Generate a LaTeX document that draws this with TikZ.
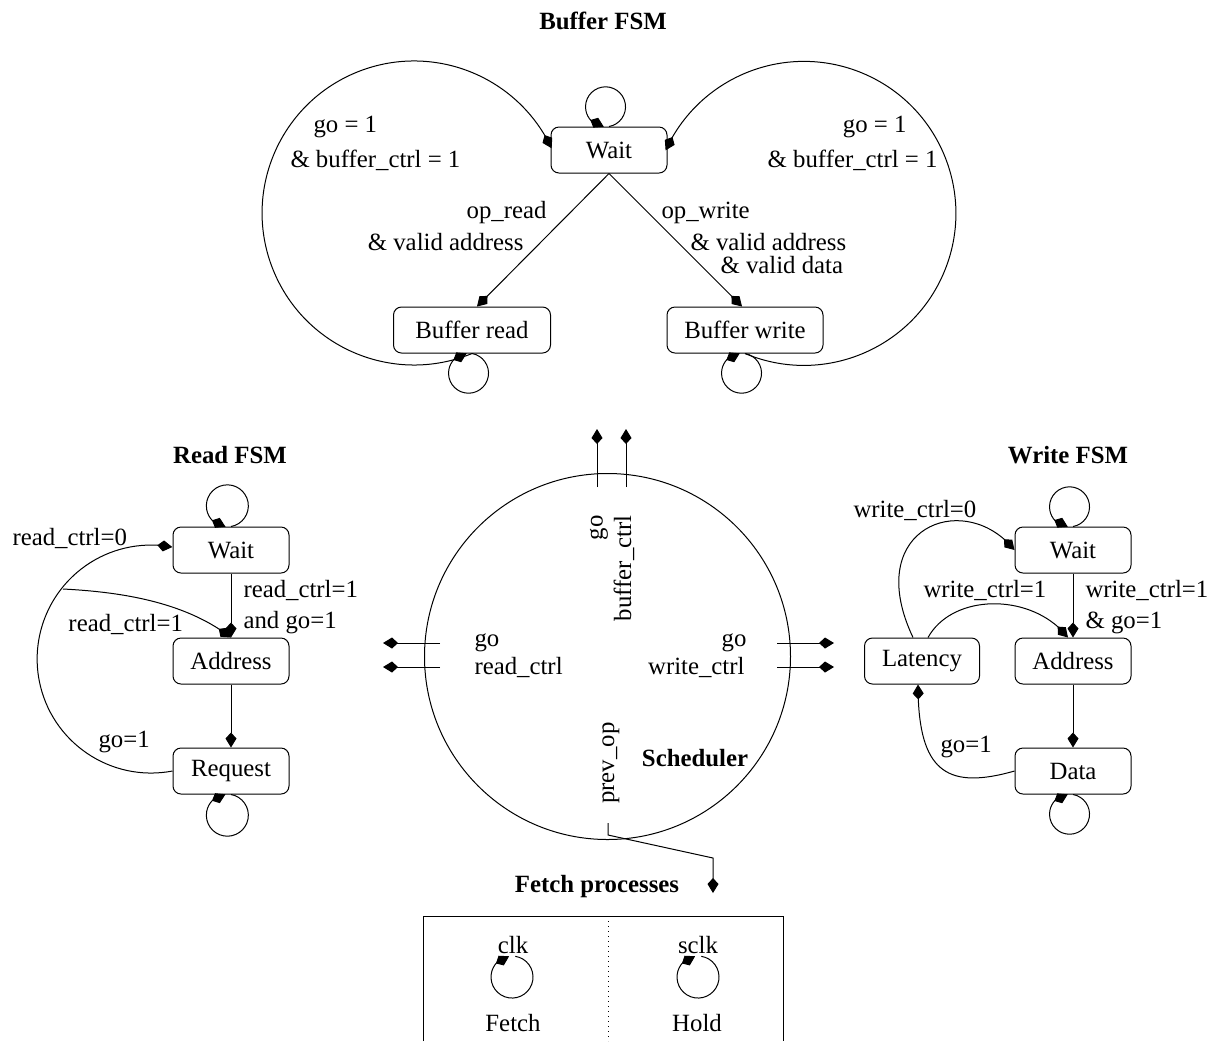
\documentclass[tikz,border=0pt]{standalone}
\usepackage{fontspec}
\setmainfont{Liberation Serif}
\usetikzlibrary{arrows.meta,bending}
\begin{document}
\begin{tikzpicture}[x=0.5pt,y=0.5pt,line width=0.5pt,
  font=\fontsize{12.4}{14}\selectfont,
  >={Kite[length=7.5pt,width=5.5pt,inset=3pt]},
  state/.style={draw,rounded corners=4pt,minimum width=58pt,minimum height=23pt,inner sep=0pt},
  lbl/.style={inner sep=0pt},
  ttl/.style={inner sep=0pt,font=\fontsize{12.4}{14}\selectfont\bfseries}]
\useasboundingbox (0,0) rectangle (1210,-1041);

% ---------------- Buffer FSM ----------------
\node[ttl] (tbuf) at (603,-21) {Buffer FSM};
\node[state] (bwait) at (609,-150) {Wait};
\node[state,minimum width=78.5pt] (bread) at (472,-330) {Buffer read};
\node[state,minimum width=78pt] (bwrite) at (745,-330) {Buffer write};

\draw[->] (bwait.south) -- ([xshift=2.5pt]bread.north);
\draw[->] (bwait.south) -- ([xshift=-1.5pt]bwrite.north);
\draw[->] (bread.south) arc[start angle=-67.6,end angle=-334.8,radius=76pt];
\draw[->] (bwrite.south) arc[start angle=-112.8,end angle=155.5,radius=76pt];
\draw[->] (bwait.north) arc[start angle=-80,end angle=265,radius=10pt];
\draw[->] (bread.south) arc[start angle=80,end angle=-265,radius=10pt];
\draw[->] (bwrite.south) arc[start angle=80,end angle=-265,radius=10pt];

\node[lbl,anchor=west] (bl1) at (313,-127) {go = 1};
\node[lbl,anchor=west] (bl2) at (290,-160) {\& buffer\_ctrl = 1};
\node[lbl,anchor=east] (br1) at (907,-127) {go = 1};
\node[lbl,anchor=east] (br2) at (938,-160) {\& buffer\_ctrl = 1};
\node[lbl,anchor=east] (bo1) at (547,-213) {op\_read};
\node[lbl,anchor=east] (bo2) at (524,-242) {\& valid address};
\node[lbl,anchor=west] (bw1) at (661,-213) {op\_write};
\node[lbl,anchor=west] (bw2) at (690,-242) {\& valid address};
\node[lbl,anchor=west] (bw3) at (720,-265) {\& valid data};

% ---------------- Read FSM ----------------
\node[ttl] (tread) at (230,-455) {Read FSM};
\node[state] (rwait) at (231,-550) {Wait};
\node[state] (raddr) at (231,-661) {Address};
\node[state] (rreq) at (231,-771) {Request};

\draw[->] (rwait) -- (raddr);
\draw[->] (raddr) -- (rreq);
\draw[->] (rwait.north) arc[start angle=-80,end angle=265,radius=10.5pt];
\draw[->] (rreq.south) arc[start angle=80,end angle=-265,radius=10.5pt];
\draw[->] (rreq.west) arc[start angle=-79.2,end angle=-280.7,radius=57pt];
\coordinate (rj) at (63,-589);
\draw[->] (rj) .. controls +(60,-3) and +(-45,35) .. (raddr.north);

\node[lbl,anchor=west] (rl1) at (243,-590) {read\_ctrl=1};
\node[lbl,anchor=west] (rl2) at (243,-623) {and go=1};
\node[lbl,anchor=west] (rl3) at (12,-538) {read\_ctrl=0};
\node[lbl,anchor=west] (rl4) at (68,-624) {read\_ctrl=1};
\node[lbl,anchor=west] (rl5) at (98,-742) {go=1};

% ---------------- Write FSM ----------------
\node[ttl] (twrite) at (1068,-455) {Write FSM};
\node[state] (wwait) at (1073,-550) {Wait};
\node[state] (waddr) at (1073,-661) {Address};
\node[state] (wdata) at (1073,-771) {Data};
\node[state,minimum width=57.5pt] (wlat) at (922,-661) {Latency};

\draw[->] (wwait) -- (waddr);
\draw[->] (waddr) -- (wdata);
\draw[->] (wwait.north) arc[start angle=-80,end angle=265,radius=10pt];
\draw[->] (wdata.south) arc[start angle=80,end angle=-265,radius=10pt];
\draw[->] ([xshift=-4.5pt]wlat.north) .. controls +(-52,110) and +(-50,62) .. (wwait.west);
\draw[->] ([xshift=3pt]wlat.north) .. controls +(25,45) and +(-35,45) .. ([xshift=-2.5pt]waddr.north);
\draw[->] (wdata.west) .. controls +(-70,-20) and +(0,-85) .. ([xshift=-2pt]wlat.south);

\node[lbl,anchor=west] (wl1) at (853,-510) {write\_ctrl=0};
\node[lbl,anchor=west] (wl2) at (923,-590) {write\_ctrl=1};
\node[lbl,anchor=west] (wl3) at (1085,-590) {write\_ctrl=1};
\node[lbl,anchor=west] (wl4) at (1085,-623) {\& go=1};
\node[lbl,anchor=west] (wl5) at (940,-747) {go=1};

% ---------------- Scheduler ----------------
\node[draw,circle,minimum size=183pt,inner sep=0pt] (sched) at (607.5,-656.5) {};
\coordinate (t1s) at (597,-487); \coordinate (t1e) at (597,-429);
\coordinate (t2s) at (626,-487); \coordinate (t2e) at (626,-429);
\draw[->] (t1s) -- (t1e);
\draw[->] (t2s) -- (t2e);
\coordinate (l1s) at (440,-643); \coordinate (l1e) at (383,-643);
\coordinate (l2s) at (440,-667); \coordinate (l2e) at (383,-667);
\draw[->] (l1s) -- (l1e);
\draw[->] (l2s) -- (l2e);
\coordinate (r1s) at (777,-643); \coordinate (r1e) at (834,-643);
\coordinate (r2s) at (777,-667); \coordinate (r2e) at (834,-667);
\draw[->] (r1s) -- (r1e);
\draw[->] (r2s) -- (r2e);

\node[lbl,rotate=90,anchor=east] (sgo) at (599,-515) {go};
\node[lbl,rotate=90,anchor=east] (sbc) at (624,-515) {buffer\_ctrl};
\node[lbl,anchor=west] (sgol) at (474,-643) {go};
\node[lbl,anchor=west] (srd) at (474,-667) {read\_ctrl};
\node[lbl,anchor=east] (sgor) at (747,-643) {go};
\node[lbl,anchor=east] (swr) at (745,-667) {write\_ctrl};
\node[lbl,rotate=90,anchor=east] (spo) at (611,-722) {prev\_op};
\node[ttl] (ssch) at (695,-758) {Scheduler};

\coordinate (p0) at (608,-823);
\coordinate (p1) at (608,-835);
\coordinate (p2) at (713,-858);
\coordinate (p3) at (713,-893);
\draw[->] (p0) -- (p1) -- (p2) -- (p3);

% ---------------- Fetch processes ----------------
\node[ttl] (tfetch) at (597,-887) {Fetch processes};
\draw (423,-1041) -- (423,-916) -- (783,-916) -- (783,-1041);
\draw[dotted] (608,-916) -- (608,-1041);
\node[lbl] (clk) at (513,-945) {clk};
\node[lbl] (sclk) at (698,-945) {sclk};
\coordinate (fl) at (515.3,-956.3);
\coordinate (hl) at (701.3,-956.3);
\draw[->] (fl) arc[start angle=81,end angle=-262,radius=10.5pt];
\draw[->] (hl) arc[start angle=81,end angle=-262,radius=10.5pt];
\node[lbl] (fetch) at (513,-1023) {Fetch};
\node[lbl] (hold) at (697,-1023) {Hold};
\end{tikzpicture}
\end{document}
